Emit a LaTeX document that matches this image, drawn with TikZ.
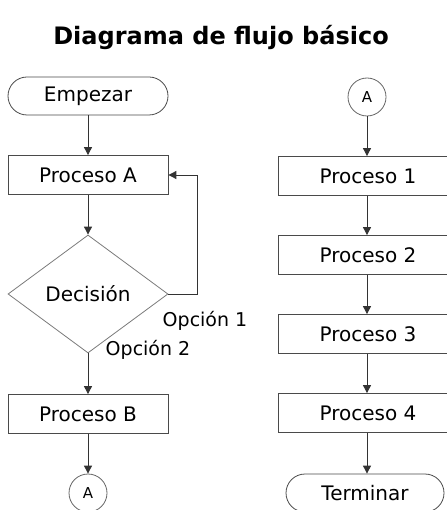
\documentclass[tikz,border=0pt]{standalone}
\usepackage{fontspec}
\setmainfont{DejaVu Sans}
\usepackage{xcolor}
\usetikzlibrary{shapes.geometric}
\usetikzlibrary{arrows.meta}
\usetikzlibrary{positioning}
\definecolor{linegray}{HTML}{333333}
\definecolor{boxgray}{HTML}{4A4A4A}
\definecolor{diagray}{HTML}{7A7A7A}
\begin{document}
\begin{tikzpicture}[
    x=1pt, y=-1pt,
    every node/.style={font=\fontsize{20}{24}\selectfont, text=black},
    terminal/.style={draw=boxgray, line width=0.8pt, rounded corners=19pt, minimum width=160pt, minimum height=38pt, inner sep=0pt},
    proceso/.style={draw=boxgray, line width=0.8pt, rectangle, minimum width=160pt, minimum height=39pt, inner sep=0pt},
    decision/.style={draw=diagray, line width=0.8pt, diamond, aspect=1.36, minimum width=160pt, minimum height=118pt, inner sep=0pt},
    conector/.style={draw=boxgray!85, line width=0.8pt, circle, minimum size=38pt, inner sep=0pt, font=\fontsize{15}{18}\selectfont},
    opcion/.style={draw=none, font=\fontsize{19}{22}\selectfont},
    flecha/.style={draw=linegray, line width=0.9pt, -{Triangle[length=8pt,width=8pt]}},
  ]
  \useasboundingbox (0,0) rectangle (446,510);

  % Title
  \node[font=\fontsize{24}{28}\selectfont\bfseries] (titulo) at (221,37) {Diagrama de flujo básico};

  % Left column
  \node[terminal] (empezar) at (88,96)  {Empezar};
  \node[proceso]  (procA)   at (88,175) {Proceso A};
  \node[decision] (decision) at (88,294) {Decisión};
  \node[proceso]  (procB)   at (88,414) {Proceso B};
  \node[conector] (conA1)   at (88,493) {A};

  % Right column
  \node[conector] (conA2)   at (367,97)  {A};
  \node[proceso, minimum width=180pt] (proc1) at (368,176) {Proceso 1};
  \node[proceso, minimum width=180pt] (proc2) at (368,255) {Proceso 2};
  \node[proceso, minimum width=180pt] (proc3) at (368,334) {Proceso 3};
  \node[proceso, minimum width=180pt] (proc4) at (368,413) {Proceso 4};
  \node[terminal, minimum width=158pt] (terminar) at (365,493) {Terminar};

  % Labels
  \node[opcion] (op1) at (205,321) {Opción 1};
  \node[opcion] (op2) at (148,350) {Opción 2};

  % Left arrows
  \draw[flecha] (empezar) -- (procA);
  \draw[flecha] (procA) -- (decision);
  \draw[flecha] (decision) -- (procB);
  \draw[flecha] (procB) -- (conA1);
  \draw[flecha] (decision.east) -| ++(29,-119) -- (procA.east);

  % Right arrows
  \draw[flecha] (conA2) -- (proc1.north -| conA2);
  \draw[flecha] (proc1.south -| conA2) -- (proc2.north -| conA2);
  \draw[flecha] (proc2.south -| conA2) -- (proc3.north -| conA2);
  \draw[flecha] (proc3.south -| conA2) -- (proc4.north -| conA2);
  \draw[flecha] (proc4.south -| conA2) -- (terminar.north -| conA2);

\end{tikzpicture}
\end{document}
